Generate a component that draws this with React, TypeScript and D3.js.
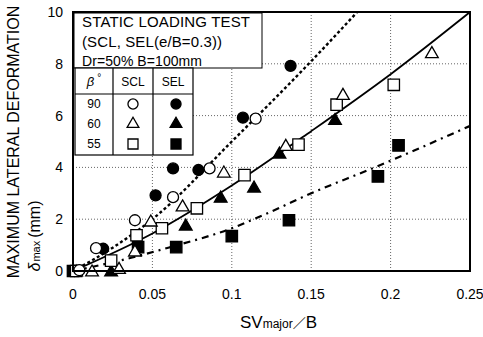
import { useRef, useEffect } from "react";
import * as d3 from "d3";

type Pt = [number, number];

// measured points (SVmajor/B, delta max mm)
const sclCircle: Pt[] = [[0.004, 0.03], [0.0145, 0.88], [0.039, 1.96], [0.063, 2.85], [0.086, 3.96], [0.115, 5.88]];
const selCircle: Pt[] = [[0.001, 0], [0.019, 0.86], [0.052, 2.92], [0.063, 3.96], [0.079, 3.9], [0.107, 5.92], [0.137, 7.92]];
const sclTriangle: Pt[] = [[0.012, -0.05], [0.029, 0.05], [0.039, 0.72], [0.049, 1.88], [0.069, 2.46], [0.095, 3.77], [0.134, 4.8], [0.17, 6.77], [0.226, 8.38]];
const selTriangle: Pt[] = [[0.002, -0.05], [0.024, -0.05], [0.071, 1.72], [0.093, 2.8], [0.114, 3.19], [0.13, 4.5], [0.165, 5.8]];
const sclSquare: Pt[] = [[0.002, 0], [0.024, 0.4], [0.04, 1.38], [0.056, 1.65], [0.078, 2.42], [0.108, 3.7], [0.142, 4.88], [0.166, 6.42], [0.202, 7.19]];
const selSquare: Pt[] = [[0, 0], [0.041, 0.92], [0.065, 0.92], [0.1, 1.35], [0.136, 1.96], [0.192, 3.65], [0.205, 4.85]];

// fitted curves
const fit90: Pt[] = [[0, 0], [0.025, 0.9], [0.05, 2.0], [0.1, 5.0], [0.15, 8.1], [0.179, 10]];
const fit60: Pt[] = [[0, 0], [0.05, 1.45], [0.1, 3.3], [0.15, 5.4], [0.2, 7.6], [0.25, 10]];
const fit55: Pt[] = [[0, 0], [0.036, 0.5], [0.06, 0.9], [0.1, 1.65], [0.125, 2.3], [0.15, 3.0], [0.19, 4.0], [0.25, 5.6]];

const xTicks = [0, 0.05, 0.1, 0.15, 0.2, 0.25];
const xTickLabels = ["0", "0.05", "0.1", "0.15", "0.2", "0.25"];
const yTicks = [0, 2, 4, 6, 8, 10];
const betaRows = ["90", "60", "55"];

const FONT = "'Liberation Sans', Arial, sans-serif";

export default function App() {
  const svgRef = useRef<SVGSVGElement>(null);

  useEffect(() => {
    if (!svgRef.current) return;
    const svg = d3.select(svgRef.current);
    svg.selectAll("*").remove();

    const x = d3.scaleLinear().domain([0, 0.25]).range([73, 470]);
    const y = d3.scaleLinear().domain([0, 10]).range([271, 12]);

    svg.append("rect").attr("width", 483).attr("height", 337).attr("fill", "#fff");

    svg
      .append("clipPath")
      .attr("id", "plot-clip")
      .append("rect")
      .attr("x", 73)
      .attr("y", 12)
      .attr("width", 397)
      .attr("height", 259);

    // grid
    const grid = svg.append("g").attr("stroke", "#666").attr("stroke-width", 1).attr("stroke-dasharray", "1,2");
    grid
      .selectAll("line.vx")
      .data(xTicks.slice(1, -1))
      .join("line")
      .attr("x1", (d) => x(d))
      .attr("x2", (d) => x(d))
      .attr("y1", y(10))
      .attr("y2", y(0));
    grid
      .selectAll("line.hy")
      .data(yTicks.slice(1, -1))
      .join("line")
      .attr("x1", x(0))
      .attr("x2", x(0.25))
      .attr("y1", (d) => y(d))
      .attr("y2", (d) => y(d));

    // tick labels
    svg
      .append("g")
      .selectAll("text")
      .data(xTicks)
      .join("text")
      .attr("x", (d) => x(d))
      .attr("y", 299)
      .attr("text-anchor", "middle")
      .style("font-family", FONT)
      .style("font-size", "14px")
      .text((_, i) => xTickLabels[i]);
    svg
      .append("g")
      .selectAll("text")
      .data(yTicks)
      .join("text")
      .attr("x", 63)
      .attr("y", (d) => y(d) + 5)
      .attr("text-anchor", "end")
      .style("font-family", FONT)
      .style("font-size", "14px")
      .text((d) => d);

    // curves
    const line = d3
      .line<Pt>()
      .x((d) => x(d[0]))
      .y((d) => y(d[1]))
      .curve(d3.curveMonotoneX);
    const curves = svg.append("g").attr("clip-path", "url(#plot-clip)").attr("fill", "none").attr("stroke", "#000");
    curves.append("path").attr("d", line(fit90)).attr("stroke-width", 2.4).attr("stroke-dasharray", "3,2.5");
    curves.append("path").attr("d", line(fit60)).attr("stroke-width", 1.8);
    curves.append("path").attr("d", line(fit55)).attr("stroke-width", 2.2).attr("stroke-dasharray", "7,5,2,5");

    // markers
    const circle = d3.symbol().type(d3.symbolCircle).size(95)();
    const tri = d3.symbol().type(d3.symbolTriangle).size(70)();
    const sq = d3.symbol().type(d3.symbolSquare).size(130)();

    const series: { data: Pt[]; path: string | null; filled: boolean }[] = [
      { data: selSquare, path: sq, filled: true },
      { data: selTriangle, path: tri, filled: true },
      { data: selCircle, path: circle, filled: true },
      { data: sclSquare, path: sq, filled: false },
      { data: sclTriangle, path: tri, filled: false },
      { data: sclCircle, path: circle, filled: false },
    ];
    const marks = svg.append("g");
    series.forEach((s) => {
      marks
        .append("g")
        .selectAll("path")
        .data(s.data)
        .join("path")
        .attr("d", s.path)
        .attr("transform", (d) => `translate(${x(d[0])},${y(d[1])})`)
        .attr("fill", s.filled ? "#000" : "#fff")
        .attr("stroke", "#000")
        .attr("stroke-width", 1.3);
    });

    // frame
    svg
      .append("rect")
      .attr("x", x(0))
      .attr("y", y(10))
      .attr("width", x(0.25) - x(0))
      .attr("height", y(0) - y(10))
      .attr("fill", "none")
      .attr("stroke", "#000")
      .attr("stroke-width", 2);

    // title box
    const box = svg.append("g");
    box
      .append("rect")
      .attr("x", 74)
      .attr("y", 13)
      .attr("width", 188)
      .attr("height", 55)
      .attr("fill", "#fff")
      .attr("stroke", "#000")
      .attr("stroke-width", 1);
    const titleLines = [
      { t: "STATIC LOADING TEST", y: 27, s: 15, w: 168 },
      { t: "(SCL, SEL(e/B=0.3))", y: 47, s: 15, w: 140 },
      { t: "Dr=50% B=100mm", y: 66, s: 14, w: 120 },
    ];
    box
      .selectAll("text")
      .data(titleLines)
      .join("text")
      .attr("x", 82)
      .attr("y", (d) => d.y)
      .attr("textLength", (d) => d.w)
      .attr("lengthAdjust", "spacing")
      .style("font-family", FONT)
      .style("font-size", (d) => `${d.s}px`)
      .text((d) => d.t);

    // legend table
    const tb = svg.append("g");
    tb.append("rect")
      .attr("x", 75)
      .attr("y", 68)
      .attr("width", 118)
      .attr("height", 87)
      .attr("fill", "#fff")
      .attr("stroke", "#000")
      .attr("stroke-width", 1.2);
    [113, 153].forEach((cx) =>
      tb.append("line").attr("x1", cx).attr("x2", cx).attr("y1", 68).attr("y2", 155).attr("stroke", "#000").attr("stroke-width", 1.2),
    );
    tb.append("line").attr("x1", 75).attr("x2", 193).attr("y1", 94).attr("y2", 94).attr("stroke", "#000").attr("stroke-width", 1.2);

    const hdr = tb.append("text").attr("x", 94).attr("y", 86).attr("text-anchor", "middle").style("font-family", FONT).style("font-size", "13px");
    hdr.append("tspan").style("font-style", "italic").text("β");
    hdr.append("tspan").attr("dx", 3).attr("dy", -5).style("font-size", "10px").text("°");
    tb.append("text").attr("x", 133).attr("y", 86).attr("text-anchor", "middle").style("font-family", FONT).style("font-size", "12px").text("SCL");
    tb.append("text").attr("x", 173).attr("y", 86).attr("text-anchor", "middle").style("font-family", FONT).style("font-size", "12px").text("SEL");

    const rowY = [104, 124, 144];
    const legendPaths = [
      d3.symbol().type(d3.symbolCircle).size(80)(),
      d3.symbol().type(d3.symbolTriangle).size(60)(),
      d3.symbol().type(d3.symbolSquare).size(100)(),
    ];
    betaRows.forEach((b, i) => {
      tb.append("text")
        .attr("x", 94)
        .attr("y", rowY[i] + 4)
        .attr("text-anchor", "middle")
        .style("font-family", FONT)
        .style("font-size", "12px")
        .text(b);
      tb.append("path").attr("d", legendPaths[i]).attr("transform", `translate(133,${rowY[i]})`).attr("fill", "#fff").attr("stroke", "#000").attr("stroke-width", 1.3);
      tb.append("path").attr("d", legendPaths[i]).attr("transform", `translate(176,${rowY[i]})`).attr("fill", "#000").attr("stroke", "#000").attr("stroke-width", 1.3);
    });

    // axis titles
    const xt = svg.append("text").attr("x", 240).attr("y", 328).style("font-family", FONT).style("font-size", "17px");
    xt.append("tspan").text("SV");
    xt.append("tspan").style("font-size", "12px").text("major");
    xt.append("tspan").style("font-family", "'Noto Sans CJK JP', sans-serif").style("font-size", "13px").text("／");
    xt.append("tspan").text("B");

    svg
      .append("text")
      .attr("transform", "translate(19,142) rotate(-90)")
      .attr("text-anchor", "middle")
      .style("font-family", FONT)
      .style("font-size", "16px")
      .text("MAXIMUM LATERAL DEFORMATION");
    const yt = svg
      .append("text")
      .attr("transform", "translate(40,236) rotate(-90)")
      .attr("text-anchor", "middle")
      .style("font-family", FONT)
      .style("font-size", "16px");
    yt.append("tspan").style("font-style", "italic").text("δ");
    yt.append("tspan").attr("dx", 1).style("font-size", "11px").text("max");
    yt.append("tspan").attr("dx", 3).text("(mm)");
  }, []);

  return (
    <svg
      ref={svgRef}
      width={483}
      height={337}
      viewBox="0 0 483 337"
      style={{ position: "absolute", left: 0, top: 0, display: "block" }}
    />
  );
}
